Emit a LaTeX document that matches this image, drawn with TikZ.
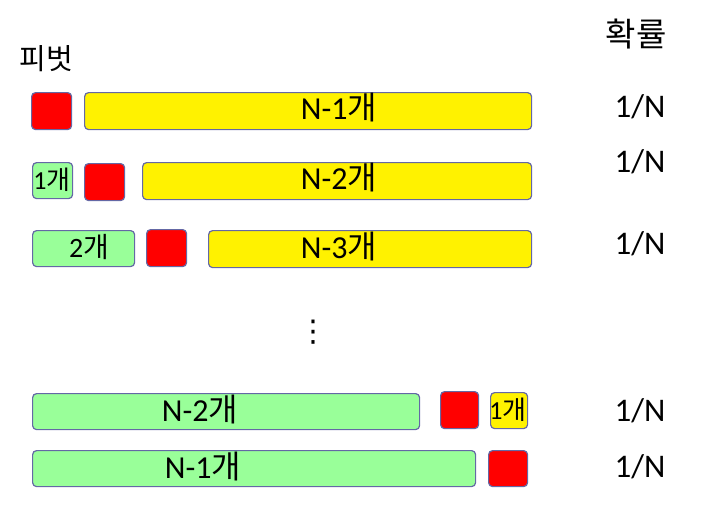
\documentclass[tikz,border=0pt]{standalone}
\usepackage{fontspec}
\setmainfont{Carlito}
\newfontfamily\kr{Noto Sans CJK KR}
\newfontfamily\sym{DejaVu Sans}
\usetikzlibrary{positioning}

\definecolor{edgeblue}{RGB}{100,104,165}
\definecolor{lessgreen}{RGB}{153,255,153}

\tikzset{
  part/.style={draw=edgeblue, line width=1.2pt, rounded corners=4pt, anchor=north west, inner sep=0pt},
  pivot/.style={part, fill=red, minimum width=40pt, minimum height=37pt},
  small/.style={part, fill=lessgreen, minimum height=36pt},
  big/.style={part, fill=yellow, minimum height=37pt},
  count/.style={font=\fontsize{32}{34}\selectfont, inner sep=0pt},
  prob/.style={font=\fontsize{33}{35}\selectfont, inner sep=0pt}
}

\begin{document}
\begin{tikzpicture}[x=1pt, y=-1pt]
  \useasboundingbox (0,0) rectangle (712,520);

  % headings
  \node[font=\fontsize{29}{31}\selectfont\kr, inner sep=0pt] (pivlabel) at (46,59) {피벗};
  \node[font=\fontsize{33}{35}\selectfont\kr, inner sep=0pt] (problabel) at (636,34) {확률};

  % row 1
  \node[pivot] (p1) at (31,92) {};
  \node[big, minimum width=447pt] (b1) at (84,92) {};
  \node[count] (t1) at (339,108) {N-1{\kr 개}};
  \node[prob] (q1) at (640,107) {1/N};

  % row 2
  \node[small, minimum width=40pt] (s2) at (32,162) {};
  \node[count, font=\fontsize{26}{28}\selectfont] (u2) at (52,180) {1{\kr 개}};
  \node[pivot] (p2) at (84,163) {};
  \node[big, minimum width=389pt] (b2) at (142,162) {};
  \node[count] (t2) at (339,178) {N-2{\kr 개}};
  \node[prob] (q2) at (640,162) {1/N};

  % row 3
  \node[small, minimum width=102pt] (s3) at (32,230) {};
  \node[count, font=\fontsize{28}{30}\selectfont] (u3) at (89,247) {2{\kr 개}};
  \node[pivot] (p3) at (146,229) {};
  \node[big, minimum width=323pt] (b3) at (208,230) {};
  \node[count] (t3) at (339,247) {N-3{\kr 개}};
  \node[prob] (q3) at (640,244) {1/N};

  % gap
  \node[inner sep=0pt, font=\fontsize{30}{32}\selectfont\sym] (gap) at (313,332) {⋮};

  % row 4
  \node[small, minimum width=387pt] (s4) at (32,393) {};
  \node[count] (u4) at (200,410) {N-2{\kr 개}};
  \node[pivot, minimum width=38pt] (p4) at (440,391) {};
  \node[part, fill=yellow, minimum width=37pt, minimum height=36pt] (b4) at (490,392) {};
  \node[count, font=\fontsize{26}{28}\selectfont] (t4) at (508,410) {1{\kr 개}};
  \node[prob] (q4) at (640,411) {1/N};

  % row 5
  \node[small, minimum width=443pt] (s5) at (32,450) {};
  \node[count] (u5) at (203,467) {N-1{\kr 개}};
  \node[pivot, minimum width=39pt, minimum height=36pt] (p5) at (488,450) {};
  \node[prob] (q5) at (640,467) {1/N};
\end{tikzpicture}
\end{document}
